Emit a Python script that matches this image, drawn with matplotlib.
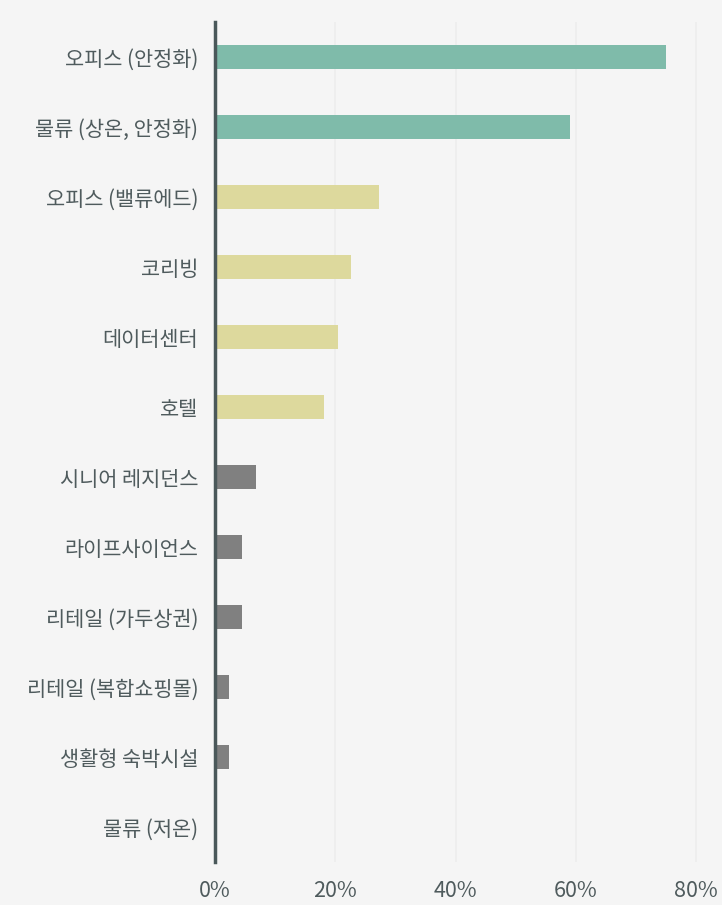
import matplotlib.pyplot as plt
from matplotlib.ticker import FuncFormatter

plt.rcParams['font.family'] = ['Noto Sans CJK KR', 'DejaVu Sans']

# share of respondents per sector (%)
sectors = ['오피스 (안정화)', '물류 (상온, 안정화)', '오피스 (밸류에드)', '코리빙', '데이터센터',
           '호텔', '시니어 레지던스', '라이프사이언스', '리테일 (가두상권)', '리테일 (복합쇼핑몰)',
           '생활형 숙박시설', '물류 (저온)']
shares = [75.0, 59.1, 27.3, 22.7, 20.5, 18.2, 6.8, 4.5, 4.5, 2.3, 2.3, 0.0]
groups = ['top', 'top', 'mid', 'mid', 'mid', 'mid', 'low', 'low', 'low', 'low', 'low', 'low']
group_colors = {'top': '#7fbbaa', 'mid': '#ddd99d', 'low': '#808080'}

bg = '#f5f5f5'
text_col = '#4f5b5d'

fig = plt.figure(figsize=(7.22, 9.05), dpi=100, facecolor=bg)
ax = fig.add_axes([215 / 722, 43 / 905, 507 / 722, 840 / 905], facecolor=bg)

ypos = list(range(len(sectors)))
ax.barh(ypos, shares, height=0.33, color=[group_colors[g] for g in groups], zorder=3)

ax.set_ylim(len(sectors) - 0.5, -0.5)
ax.set_xlim(0, 507 / 6.0125)
ax.set_yticks(ypos)
ax.set_yticklabels(sectors, fontsize=15, color=text_col)
ax.set_xticks([0, 20, 40, 60, 80])
ax.xaxis.set_major_formatter(FuncFormatter(lambda v, p: f'{v:.0f}%'))
ax.tick_params(axis='x', length=0, labelsize=15.5, labelcolor=text_col, pad=13)
ax.tick_params(axis='y', length=0, pad=12)
for lab in ax.get_xticklabels():
    lab.set_fontweight('light')

ax.grid(axis='x', color='#ededed', linewidth=1.2, zorder=0)
for side in ['top', 'right', 'bottom']:
    ax.spines[side].set_visible(False)
ax.spines['left'].set_color('#4a585a')
ax.spines['left'].set_linewidth(2.5)
ax.spines['left'].set_zorder(4)

fig.savefig('out.png', dpi=100, facecolor=bg)
